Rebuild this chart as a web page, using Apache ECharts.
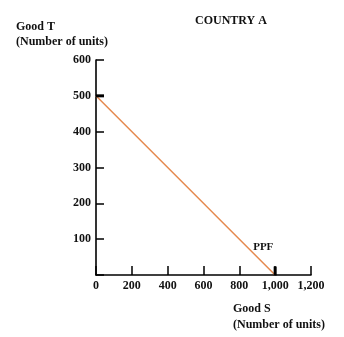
<!DOCTYPE html>
<html>
<head>
    <meta charset="utf-8">
    <title>PPF</title>
    <script src="https://cdn.jsdelivr.net/npm/echarts@6/dist/echarts.min.js"></script>
    <style>
        *{margin: 0;padding: 0;}
        body{background:#fff;}
    </style>
</head>
<body>
    <div id="main" style="width: 344px;height:337px;"></div>
    <script type="text/javascript">
        // PPF data: intercepts on the two axes
        var goodS = [0, 1000];
        var goodT = [500, 0];
        var xTicks = [0, 200, 400, 600, 800, 1000, 1200];
        var yTicks = [100, 200, 300, 400, 500, 600];

        var font = '"Liberation Serif", "Times New Roman", serif';
        var myChart = echarts.init(document.getElementById('main'));

        var option = {
            animation: false,
            grid: { left: 96, right: 33, top: 60, bottom: 62 },
            title: {
                text: 'COUNTRY A',
                left: 190, top: 10,
                textStyle: { fontFamily: font, fontSize: 12, fontWeight: 'bold', color: '#111' }
            },
            graphic: [
                { type: 'text', left: 16, top: 19, style: { text: 'Good T\n(Number of units)', font: 'bold 12px ' + font, fill: '#111', lineHeight: 15 } },
                { type: 'text', left: 233, top: 301, style: { text: 'Good S\n(Number of units)', font: 'bold 12px ' + font, fill: '#111', lineHeight: 16 } }
            ],
            xAxis: {
                type: 'value', min: 0, max: 1200, interval: 200,
                axisLine: { lineStyle: { color: '#000', width: 1.6 } },
                axisTick: { inside: true, length: 9, lineStyle: { color: '#000', width: 1.5 } },
                splitLine: { show: false },
                axisLabel: {
                    margin: 5, color: '#111', fontFamily: font, fontSize: 12, fontWeight: 'bold',
                    formatter: function (v) { return xTicks.indexOf(v) < 0 ? '' : v.toLocaleString('en-US'); }
                }
            },
            yAxis: {
                type: 'value', min: 0, max: 600, interval: 100,
                axisLine: { show: true, lineStyle: { color: '#000', width: 1.6 } },
                axisTick: { show: true, inside: true, length: 8, lineStyle: { color: '#000', width: 1.5 } },
                splitLine: { show: false },
                axisLabel: {
                    margin: 5, color: '#111', fontFamily: font, fontSize: 12, fontWeight: 'bold',
                    formatter: function (v) { return yTicks.indexOf(v) < 0 ? '' : String(v); }
                }
            },
            series: [{
                type: 'line',
                data: goodS.map(function (s, i) { return [s, goodT[i]]; }),
                symbol: 'none',
                lineStyle: { color: '#E5894E', width: 1.5 },
                label: { show: false },
                markPoint: {
                    symbol: 'rect',
                    label: { show: false },
                    itemStyle: { color: '#000' },
                    data: [
                        { coord: [goodS[0], goodT[0]], symbolSize: [8, 3], symbolOffset: [4, 0] },
                        { coord: [goodS[1], goodT[1]], symbolSize: [3, 9], symbolOffset: [0, -4] }
                    ]
                },
                endLabel: {
                    show: true, formatter: 'PPF', offset: [-30, -28],
                    color: '#111', fontFamily: font, fontSize: 11, fontWeight: 'bold'
                }
            }]
        };

        myChart.setOption(option);
    </script>
</body>
</html>
